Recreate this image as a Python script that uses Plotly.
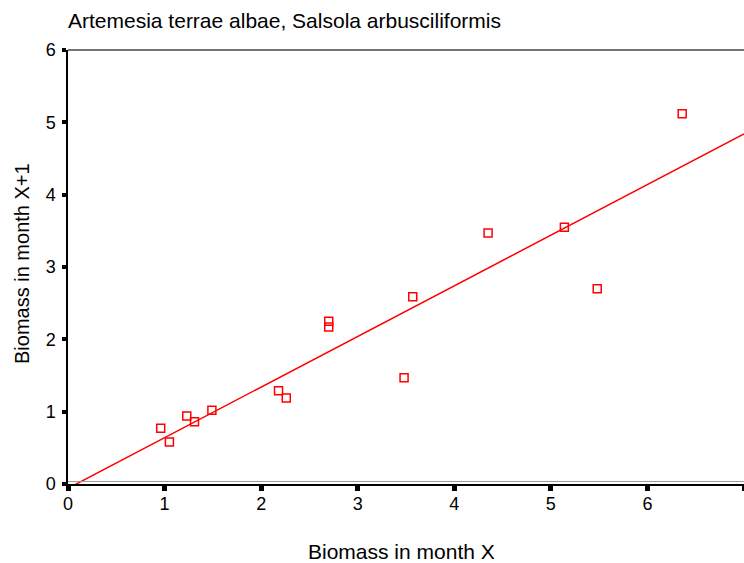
import plotly.graph_objects as go

title_text = "Artemesia terrae albae, Salsola arbusciliformis"
x_title = "Biomass in month X"
y_title = "Biomass in month X+1"

biomass_x = [0.96, 1.05, 1.23, 1.31, 1.49, 2.18, 2.26, 2.70, 2.70, 3.48, 3.57, 4.35, 5.14, 5.48, 6.36]
biomass_x1 = [0.77, 0.58, 0.94, 0.86, 1.02, 1.29, 1.19, 2.25, 2.17, 1.47, 2.59, 3.47, 3.55, 2.70, 5.12]

fit_x = [0.0, 7.0]
fit_y = [-0.06, 4.84]

x_ticks = [0, 1, 2, 3, 4, 5, 6, 7]
y_ticks = [0, 1, 2, 3, 4, 5, 6]

font_family = "Liberation Sans, Arial, sans-serif"

fig = go.Figure()
fig.add_trace(go.Scatter(
    x=fit_x, y=fit_y, mode="lines",
    line=dict(color="#ff0000", width=1.5),
    showlegend=False, hoverinfo="skip",
))
fig.add_trace(go.Scatter(
    x=biomass_x, y=biomass_x1, mode="markers",
    marker=dict(symbol="square-open", size=8, color="#ff0000", line=dict(width=1.5, color="#ff0000")),
    showlegend=False,
))

fig.update_layout(
    width=744, height=563,
    margin=dict(l=68, r=0, t=50, b=79),
    paper_bgcolor="white", plot_bgcolor="white",
    font=dict(family=font_family, color="black", size=18),
    title=dict(text=title_text, x=68/744, xanchor="left", y=1-21/563, yanchor="middle",
               font=dict(size=21, color="black", family=font_family)),
    xaxis=dict(
        range=[0, 7], tickvals=x_ticks, ticktext=[str(v) for v in x_ticks],
        showgrid=False, zeroline=False,
        showline=True, linecolor="black", linewidth=2,
        ticks="outside", ticklen=5, tickwidth=5, tickcolor="black",
        tickfont=dict(size=18, color="black"),
        ticklabelstandoff=-3,
    ),
    yaxis=dict(
        range=[0, 6], tickvals=y_ticks, ticktext=[str(v) for v in y_ticks],
        showgrid=False, zeroline=False,
        showline=True, linecolor="black", linewidth=1.5,
        ticks="outside", ticklen=4, tickwidth=4, tickcolor="black",
        tickfont=dict(size=18, color="black"),
        ticklabelstandoff=3,
    ),
    annotations=[
        dict(text=x_title, xref="paper", yref="paper", x=(401-68)/676, y=(484-551)/434,
             xanchor="center", yanchor="middle", showarrow=False,
             font=dict(size=21, color="black")),
        dict(text=y_title, xref="paper", yref="paper", x=(22-68)/676, y=(484-264)/434,
             xanchor="center", yanchor="middle", showarrow=False, textangle=-90,
             font=dict(size=20, color="black")),
    ],
    shapes=[
        dict(type="line", xref="paper", yref="paper", x0=0, x1=1, y0=1, y1=1,
             line=dict(color="#444444", width=1.5)),
        dict(type="line", xref="paper", yref="y", x0=0, x1=1, y0=0.035, y1=0.035,
             line=dict(color="#999999", width=1)),
    ],
)

fig.write_html("out.html", config={"displayModeBar": False},
               post_script="document.body.style.margin='0';document.body.style.overflow='hidden';")
